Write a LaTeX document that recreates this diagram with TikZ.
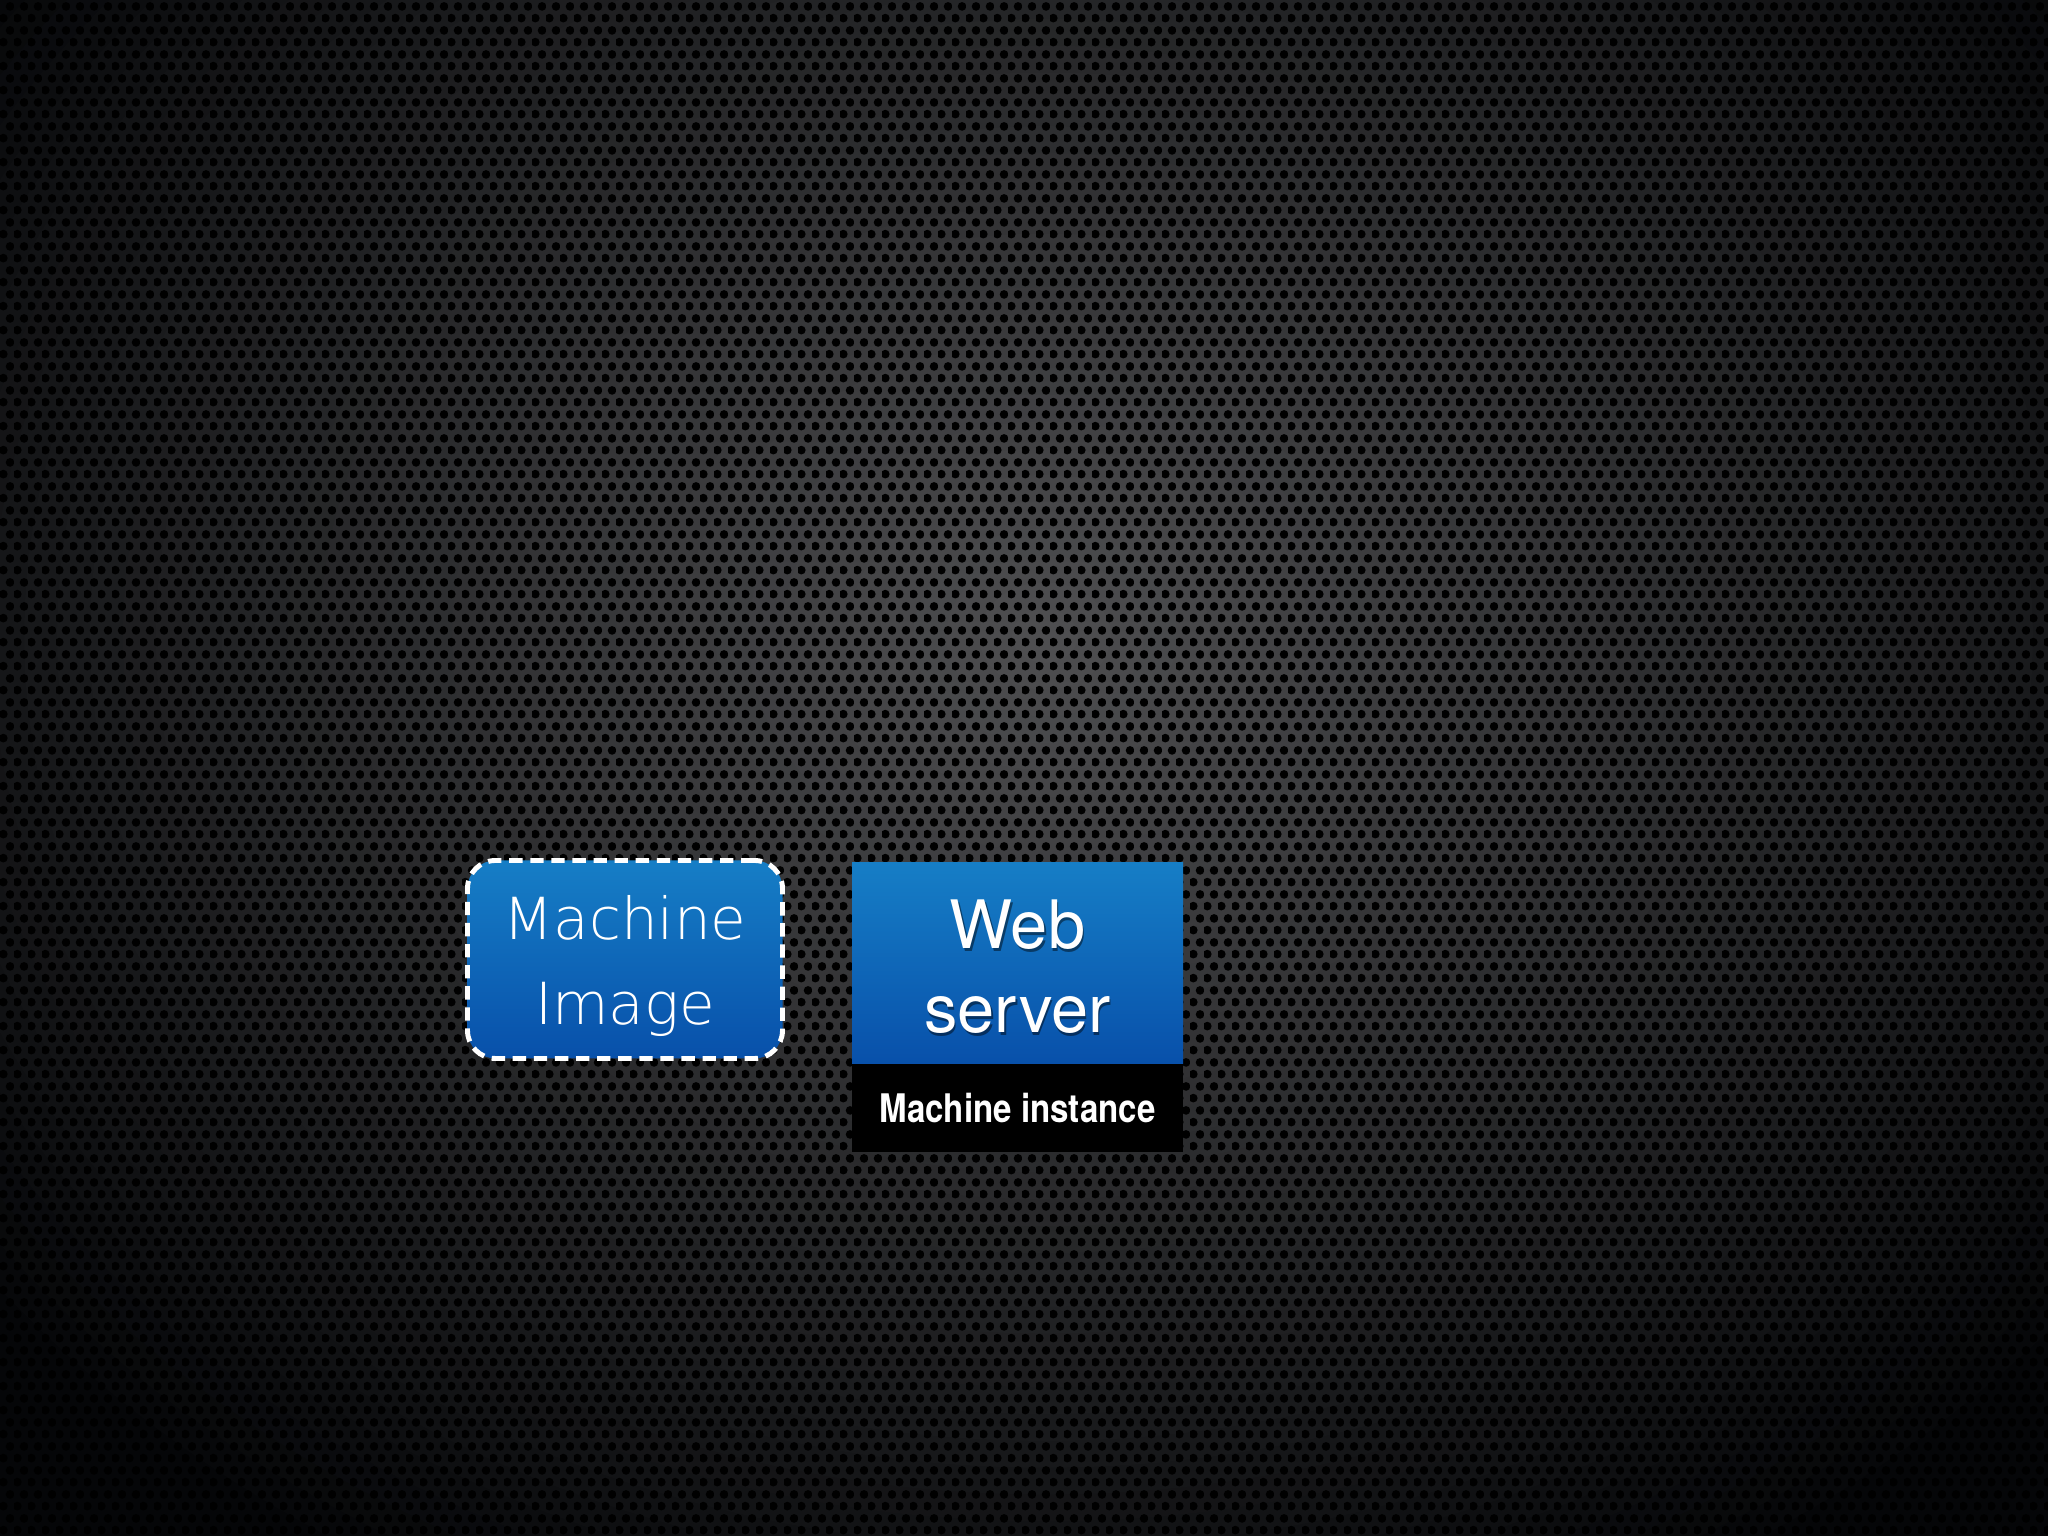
\documentclass[tikz,border=0pt]{standalone}
\usepackage{fontspec}
\usepackage{tikz}
\usetikzlibrary{calc}
\usetikzlibrary{positioning}
\usetikzlibrary{patterns.meta}

\setmainfont{TeX Gyre Heros}
\newfontfamily\thinfont{DejaVuSans-ExtraLight.ttf}
\newfontfamily\condfont{TeX Gyre Heros}[FakeStretch=0.84]

\definecolor{bgmid}{RGB}{78,78,80}
\definecolor{bgedge}{RGB}{5,6,8}
\definecolor{bluetop}{RGB}{22,126,198}
\definecolor{bluebot}{RGB}{8,80,170}

\tikzdeclarepattern{
    name=holes,
    type=uncolored,
    bottom left={(0pt,0pt)},
    top right={(3.9pt,6.75pt)},
    tile size={(3.9pt,6.75pt)},
    code={
        \pgfpathcircle{\pgfpoint{0.97pt}{1.69pt}}{1.25pt}
        \pgfpathcircle{\pgfpoint{2.92pt}{5.06pt}}{1.25pt}
        \pgfusepath{fill}
    }
}

\begin{document}
\begin{tikzpicture}[
    imgbox/.style={rectangle, rounded corners=0.28cm, top color=bluetop, bottom color=bluebot,
        draw=white, line width=1.4pt, dash pattern=on 3.8pt off 2.2pt,
        minimum width=3.15cm, minimum height=1.98cm},
    srvbox/.style={rectangle, top color=bluetop, bottom color=bluebot, inner sep=0pt, outer sep=0pt,
        minimum width=3.31cm, minimum height=2.01cm},
    tagbox/.style={rectangle, fill=black, text=white, inner sep=0pt, outer sep=0pt,
        minimum width=3.31cm, minimum height=0.88cm, font=\condfont\bfseries\fontsize{11.2}{13}\selectfont},
    thintxt/.style={text=white, align=center, font=\thinfont\fontsize{16.5}{24}\selectfont},
    srvtxt/.style={text=white, align=center, font=\fontsize{19}{24}\selectfont}]
    \useasboundingbox (0,0) rectangle (20.48,15.36);
    \clip (0,0) rectangle (20.48,15.36);

    % perforated backdrop, lit a little above the middle
    \fill[bgedge] (0,0) rectangle (20.48,15.36);
    \coordinate (L) at (10.45,9.0);
    \foreach \i in {0,...,40}
    {
        \pgfmathsetmacro\r{1-\i/41}
        \pgfmathsetmacro\p{100*\i/40}
        \fill[bgmid!\p!bgedge] (L) ellipse ({13.5*\r} and {11*\r});
    }
    \fill[pattern=holes, pattern color=black] (0,0) rectangle (20.48,15.36);

    \node[imgbox] (image) at (6.25,5.765) {};
    \node[thintxt] (imagetext) at (6.25,5.70) {Machine\\Image};

    \node[srvbox] (server) at (10.175,5.725) {};
    \node[tagbox, below=0pt of server] (instance) {Machine instance};
    \node[srvtxt, text=black, opacity=0.45] (servershadow) at ($(server.center)+(0.015,-0.065)$) {Web\\server};
    \node[srvtxt] (servertext) at ($(server.center)+(0,-0.035)$) {Web\\server};
\end{tikzpicture}
\end{document}
